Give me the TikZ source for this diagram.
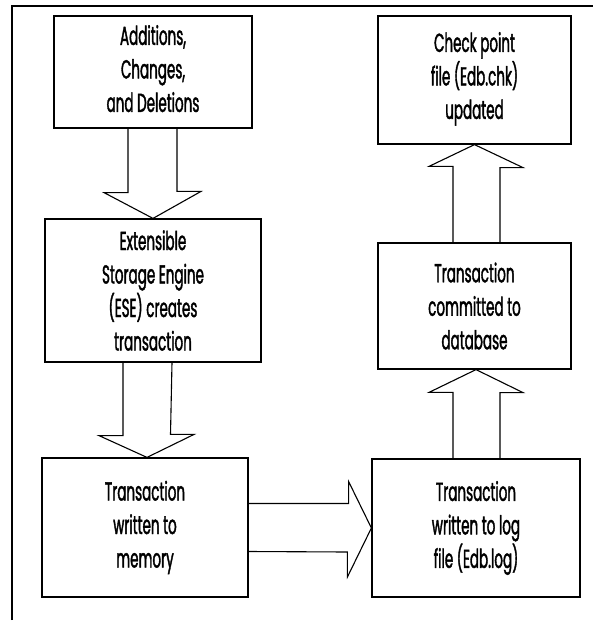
\documentclass[tikz,border=0pt]{standalone}
\usepackage{fontspec}
\setmainfont{Poppins}[FakeStretch=0.52,FakeBold=1.4]
\usetikzlibrary{calc}
\tikzset{
  box/.style={draw, line width=1.2pt, inner sep=0pt, align=center,
    font=\fontsize{26}{33.5}\selectfont},
  blk/.style={draw, line width=1.1pt, line join=miter}
}
\begin{document}
\begin{tikzpicture}[x=1pt,y=-1pt]
\useasboundingbox (0,0) rectangle (593,622);
\draw[line width=1.2pt] (12,620) -- (12,6) -- (593,6);
\node[box, minimum width=198pt, minimum height=112pt, text depth=7pt] (add) at (153,72) {Additions,\\Changes,\\and Deletions};
\node[box, minimum width=216pt, minimum height=143pt] (ese) at (153,290.5) {Extensible\\Storage Engine\\(ESE) creates\\transaction};
\node[box, minimum width=206pt, minimum height=139pt] (mem) at (145,527.5) {Transaction\\written to\\memory};
\node[box, minimum width=208pt, minimum height=138pt] (log) at (476,528) {Transaction\\written to log\\file (Edb.log)};
\node[box, minimum width=193pt, minimum height=126pt] (com) at (474.5,306) {Transaction\\committed to\\database};
\node[box, minimum width=193pt, minimum height=128pt, text depth=9pt] (chk) at (474.5,80) {Check point\\file (Edb.chk)\\updated};
% arrow add -> ese
\draw[blk] ($(add.south)+(-25,0)$) -- ++(0,64) -- ++(-24,0) -- (ese.north)
  -- ($(ese.north)+(48,-27)$) -- ++(-24,0) -- ($(add.south)+(24,0)$);
% arrow ese -> mem
\draw[blk] ($(ese.south)+(-30,0)$) -- ++(0,73) -- ++(-24,0) -- ($(mem.north)+(2,0)$)
  -- ($(mem.north)+(49,-23)$) -- ++(-23.5,0) -- ($(ese.south)+(19,0)$);
% arrow mem -> log
\draw[blk] ($(mem.east)+(0,-24)$) -- ++(100,0) -- ++(0,-22) -- (log.west)
  -- ($(log.west)+(-24,49)$) -- ++(0,-25) -- ($(mem.east)+(0,24)$);
% arrow log -> com
\draw[blk] ($(log.north)+(-23,0)$) -- ++(0,-66) -- ++(-24,0) -- (log.north |- com.south)
  -- ($(log.north |- com.south)+(47,23)$) -- ++(-23,0) -- ($(log.north)+(24,0)$);
% arrow com -> chk
\draw[blk] ($(com.north)+(-21.5,0)$) -- ++(0,-76) -- ++(-24,0) -- (com.north |- chk.south)
  -- ($(com.north |- chk.south)+(48.5,23)$) -- ++(-23,0) -- ($(com.north)+(25.5,0)$);
\end{tikzpicture}
\end{document}
